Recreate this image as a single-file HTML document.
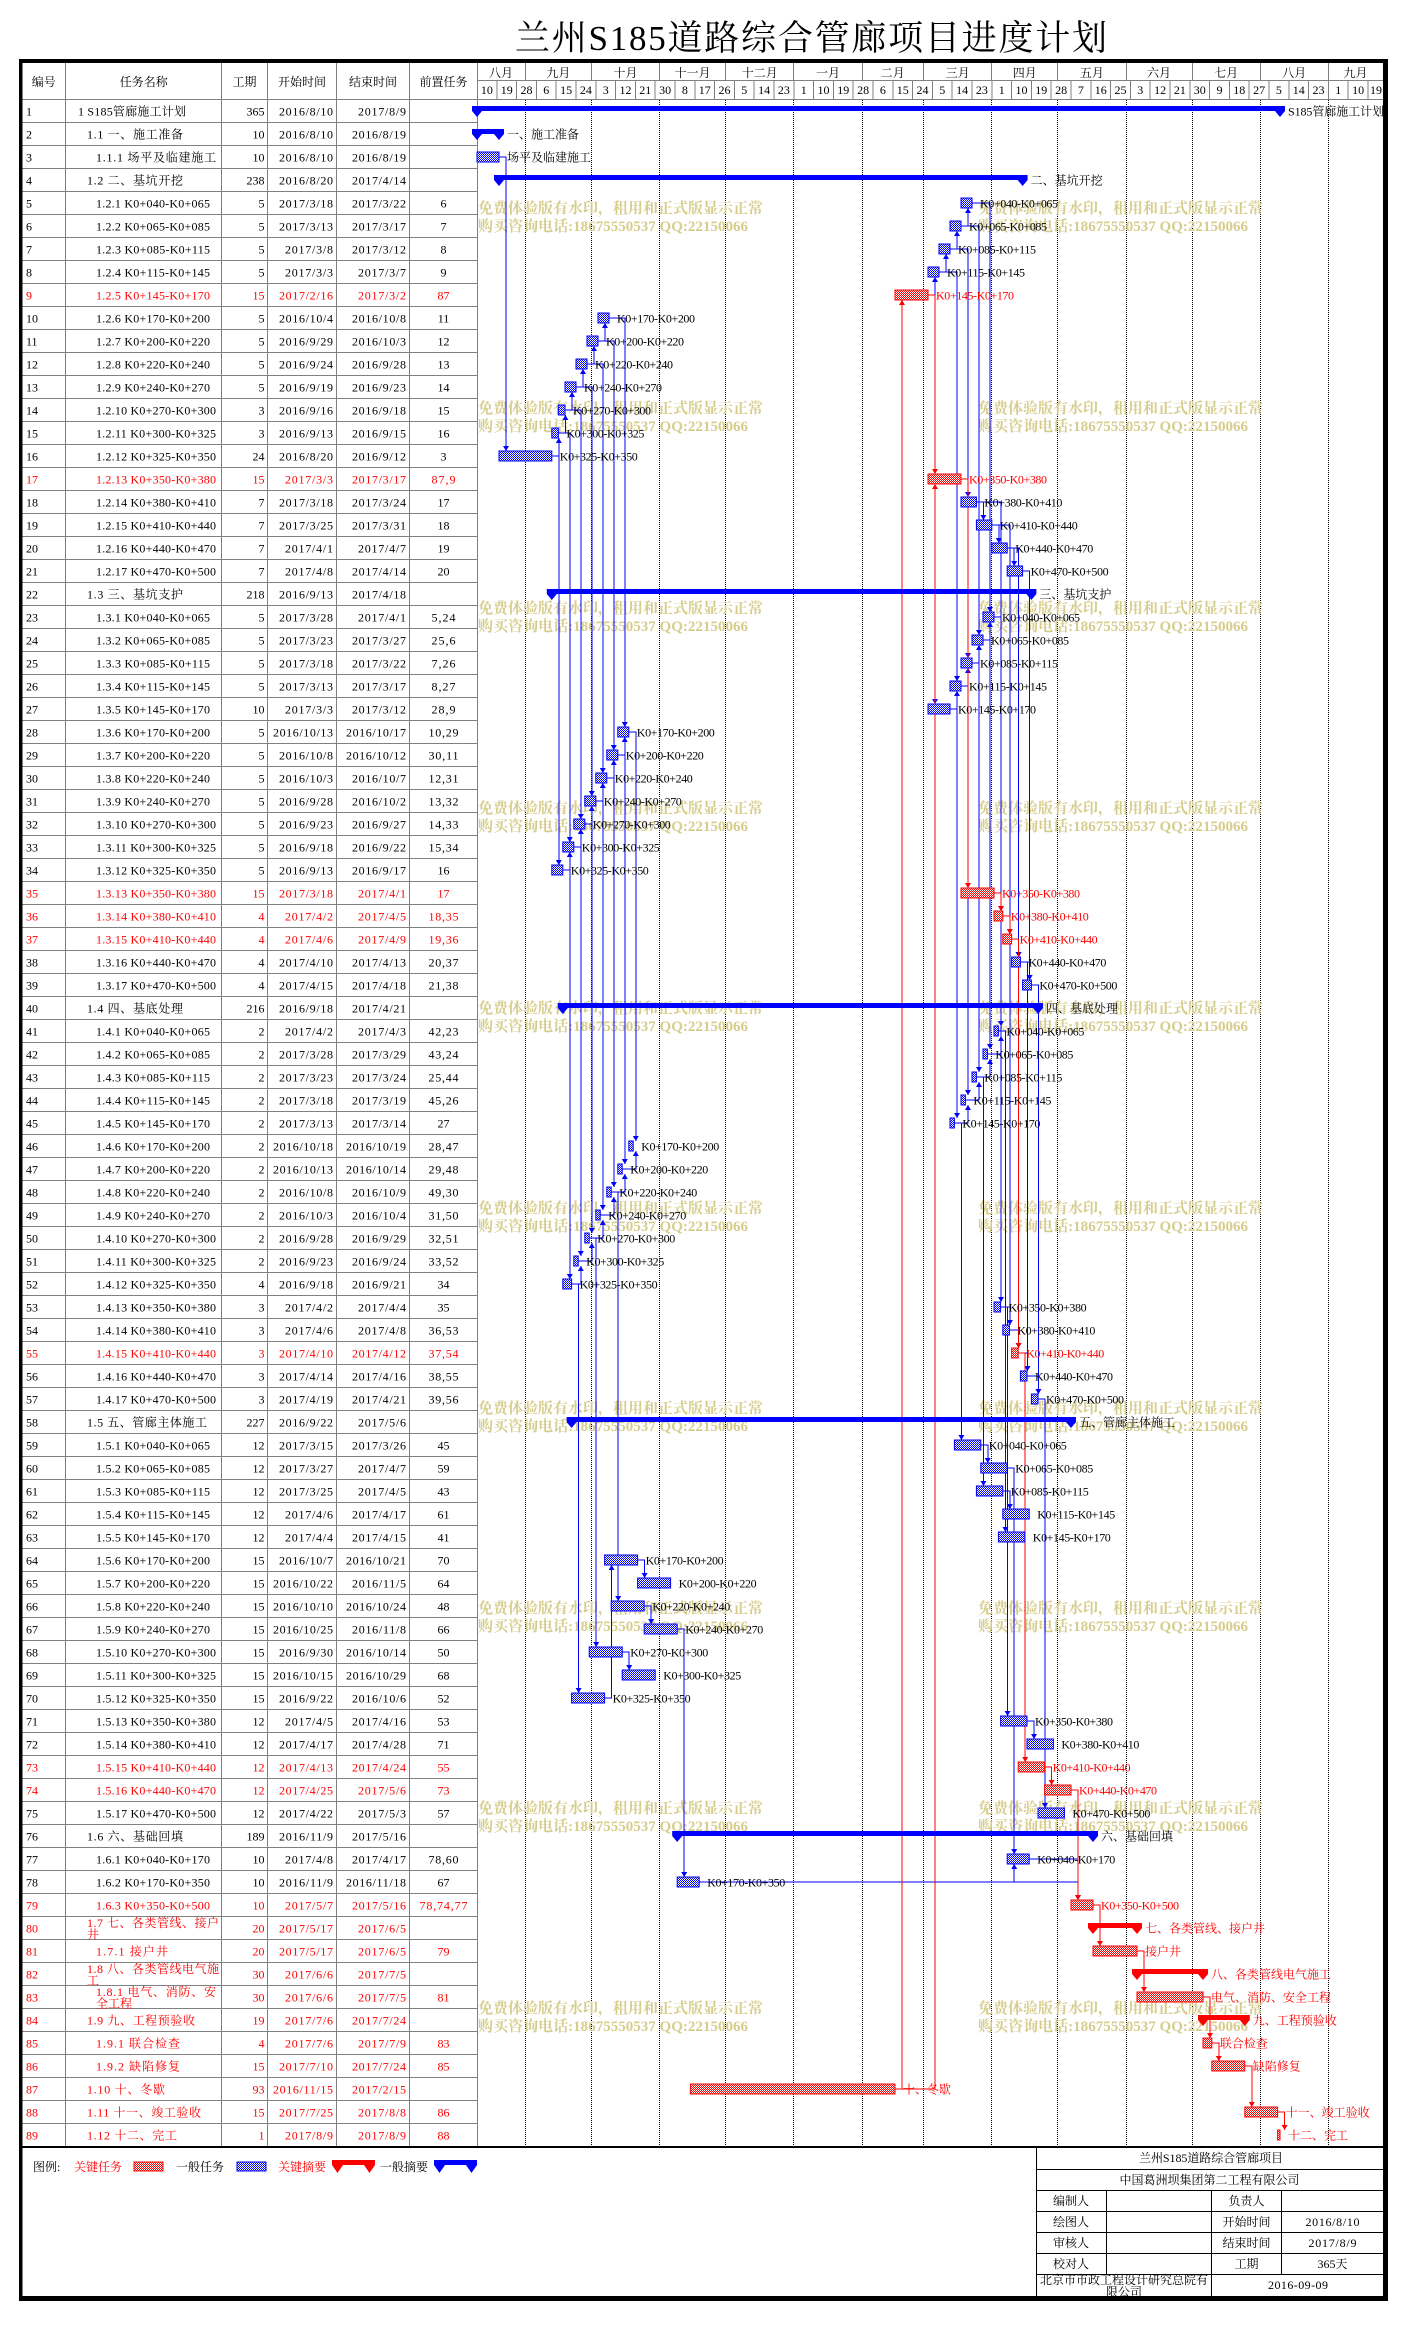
<!DOCTYPE html>
<html><head><meta charset="utf-8">
<style>
html,body{margin:0;padding:0;background:#fff}
svg{display:block}
text{font-family:"Liberation Serif","Noto Serif CJK SC",serif;font-size:12px;fill:#000}
.r text,text.r{fill:#f00}
.d{text-anchor:end}
.m{text-anchor:middle}
.w{font-size:15px;font-weight:bold;fill:#d6cc8c}
.b{fill:url(#pb);stroke:#00f;stroke-width:1}
.c{fill:url(#pr);stroke:#f00;stroke-width:1}
.sb{fill:#00f}
.sr{fill:#f00}
.lb{fill:none;stroke:#00f;stroke-width:1;marker-end:url(#ab)}
.lr{fill:none;stroke:#f00;stroke-width:1;marker-end:url(#ar)}
</style></head><body>
<svg width="1405" height="2337" viewBox="0 0 1405 2337" xmlns="http://www.w3.org/2000/svg">
<defs>
<pattern id="pb" width="2" height="2" patternUnits="userSpaceOnUse"><rect width="2" height="2" fill="#fff"/><rect width="1" height="1" fill="#00f"/><rect x="1" y="1" width="1" height="1" fill="#00f"/></pattern>
<pattern id="pr" width="2" height="2" patternUnits="userSpaceOnUse"><rect width="2" height="2" fill="#fff"/><rect width="1" height="1" fill="#f00"/><rect x="1" y="1" width="1" height="1" fill="#f00"/></pattern>
<pattern id="rl" x="0" y="99" width="10" height="23" patternUnits="userSpaceOnUse"><rect width="10" height="1" fill="#808080"/></pattern>
<marker id="ab" markerWidth="5" markerHeight="6" refX="5" refY="3" orient="auto" markerUnits="userSpaceOnUse"><path d="M0,0L5,3L0,6Z" fill="#00f"/></marker>
<marker id="ar" markerWidth="5" markerHeight="6" refX="5" refY="3" orient="auto" markerUnits="userSpaceOnUse"><path d="M0,0L5,3L0,6Z" fill="#f00"/></marker>
</defs>
<rect width="1405" height="2337" fill="#fff"/>

<text x="515" y="50" style="font-size:35px" textLength="592">兰州S185道路综合管廊项目进度计划</text>

<!-- grid -->
<rect x="22" y="99" width="455" height="2047" fill="url(#rl)"/>
<g shape-rendering="crispEdges" fill="none" stroke="#808080" stroke-width="1">
<path d="M65.5 63V2146M221.5 63V2146M267.5 63V2146M336.5 63V2146M409.5 63V2146M477.5 63V2146M477 80.5H1383M22 99.5H1383"/>
<path d="M525.5 63V80M591.5 63V80M659.5 63V80M725.5 63V80M793.5 63V80M862.5 63V80M923.5 63V80M991.5 63V80M1057.5 63V80M1126.5 63V80M1192.5 63V80M1260.5 63V80M1328.5 63V80"/>
<path d="M496.8 80V99M516.6 80V99M536.4 80V99M556.2 80V99M576 80V99M595.8 80V99M615.6 80V99M635.4 80V99M655.2 80V99M675 80V99M694.8 80V99M714.6 80V99M734.4 80V99M754.2 80V99M774 80V99M793.8 80V99M813.6 80V99M833.4 80V99M853.2 80V99M873 80V99M892.8 80V99M912.6 80V99M932.4 80V99M952.2 80V99M972 80V99M991.8 80V99M1011.6 80V99M1031.4 80V99M1051.2 80V99M1071 80V99M1090.8 80V99M1110.6 80V99M1130.4 80V99M1150.2 80V99M1170 80V99M1189.8 80V99M1209.6 80V99M1229.4 80V99M1249.2 80V99M1269 80V99M1288.8 80V99M1308.6 80V99M1328.4 80V99M1348.2 80V99M1368 80V99"/>
</g>
<path shape-rendering="crispEdges" d="M525.5 100V2146M591.5 100V2146M659.5 100V2146M725.5 100V2146M793.5 100V2146M862.5 100V2146M923.5 100V2146M991.5 100V2146M1057.5 100V2146M1126.5 100V2146M1192.5 100V2146M1260.5 100V2146M1328.5 100V2146" stroke="#000" stroke-width="1" stroke-dasharray="1 1" fill="none"/>

<!-- header -->
<text x="43.8" y="86" class="m">编号</text>
<text x="143.8" y="86" class="m">任务名称</text>
<text x="244.5" y="86" class="m">工期</text>
<text x="302" y="86" class="m">开始时间</text>
<text x="373" y="86" class="m">结束时间</text>
<text x="443.5" y="86" class="m">前置任务</text>
<g class="m">
<text x="501" y="77" class="m">八月</text><text x="558.4" y="77" class="m">九月</text><text x="625.5" y="77" class="m">十月</text><text x="692.6" y="77" class="m">十一月</text><text x="759.7" y="77" class="m">十二月</text><text x="828" y="77" class="m">一月</text><text x="892.8" y="77" class="m">二月</text><text x="957.7" y="77" class="m">三月</text><text x="1024.8" y="77" class="m">四月</text><text x="1091.9" y="77" class="m">五月</text><text x="1159" y="77" class="m">六月</text><text x="1226.1" y="77" class="m">七月</text><text x="1294.3" y="77" class="m">八月</text><text x="1355.5" y="77" class="m">九月</text>
</g>
<g>
<text x="486.9" y="94" class="m">10</text><text x="506.7" y="94" class="m">19</text><text x="526.5" y="94" class="m">28</text><text x="546.3" y="94" class="m">6</text><text x="566.1" y="94" class="m">15</text><text x="585.9" y="94" class="m">24</text><text x="605.7" y="94" class="m">3</text><text x="625.5" y="94" class="m">12</text><text x="645.3" y="94" class="m">21</text><text x="665.1" y="94" class="m">30</text><text x="684.9" y="94" class="m">8</text><text x="704.7" y="94" class="m">17</text><text x="724.5" y="94" class="m">26</text><text x="744.3" y="94" class="m">5</text><text x="764.1" y="94" class="m">14</text><text x="783.9" y="94" class="m">23</text><text x="803.7" y="94" class="m">1</text><text x="823.5" y="94" class="m">10</text><text x="843.3" y="94" class="m">19</text><text x="863.1" y="94" class="m">28</text><text x="882.9" y="94" class="m">6</text><text x="902.7" y="94" class="m">15</text><text x="922.5" y="94" class="m">24</text><text x="942.3" y="94" class="m">5</text><text x="962.1" y="94" class="m">14</text><text x="981.9" y="94" class="m">23</text><text x="1001.7" y="94" class="m">1</text><text x="1021.5" y="94" class="m">10</text><text x="1041.3" y="94" class="m">19</text><text x="1061.1" y="94" class="m">28</text><text x="1080.9" y="94" class="m">7</text><text x="1100.7" y="94" class="m">16</text><text x="1120.5" y="94" class="m">25</text><text x="1140.3" y="94" class="m">3</text><text x="1160.1" y="94" class="m">12</text><text x="1179.9" y="94" class="m">21</text><text x="1199.7" y="94" class="m">30</text><text x="1219.5" y="94" class="m">9</text><text x="1239.3" y="94" class="m">18</text><text x="1259.1" y="94" class="m">27</text><text x="1278.9" y="94" class="m">5</text><text x="1298.7" y="94" class="m">14</text><text x="1318.5" y="94" class="m">23</text><text x="1338.3" y="94" class="m">1</text><text x="1358.1" y="94" class="m">10</text><text x="1376" y="94" class="m">19</text>
</g>

<!-- watermark -->
<g>
<text class="w" x="478" y="213" textLength="285">免费体验版有水印，租用和正式版显示正常</text><text class="w" x="478" y="231" textLength="270">购买咨询电话:18675550537 QQ:22150066</text>
<text class="w" x="978" y="213" textLength="285">免费体验版有水印，租用和正式版显示正常</text><text class="w" x="978" y="231" textLength="270">购买咨询电话:18675550537 QQ:22150066</text>
<text class="w" x="478" y="413" textLength="285">免费体验版有水印，租用和正式版显示正常</text><text class="w" x="478" y="431" textLength="270">购买咨询电话:18675550537 QQ:22150066</text>
<text class="w" x="978" y="413" textLength="285">免费体验版有水印，租用和正式版显示正常</text><text class="w" x="978" y="431" textLength="270">购买咨询电话:18675550537 QQ:22150066</text>
<text class="w" x="478" y="613" textLength="285">免费体验版有水印，租用和正式版显示正常</text><text class="w" x="478" y="631" textLength="270">购买咨询电话:18675550537 QQ:22150066</text>
<text class="w" x="978" y="613" textLength="285">免费体验版有水印，租用和正式版显示正常</text><text class="w" x="978" y="631" textLength="270">购买咨询电话:18675550537 QQ:22150066</text>
<text class="w" x="478" y="813" textLength="285">免费体验版有水印，租用和正式版显示正常</text><text class="w" x="478" y="831" textLength="270">购买咨询电话:18675550537 QQ:22150066</text>
<text class="w" x="978" y="813" textLength="285">免费体验版有水印，租用和正式版显示正常</text><text class="w" x="978" y="831" textLength="270">购买咨询电话:18675550537 QQ:22150066</text>
<text class="w" x="478" y="1013" textLength="285">免费体验版有水印，租用和正式版显示正常</text><text class="w" x="478" y="1031" textLength="270">购买咨询电话:18675550537 QQ:22150066</text>
<text class="w" x="978" y="1013" textLength="285">免费体验版有水印，租用和正式版显示正常</text><text class="w" x="978" y="1031" textLength="270">购买咨询电话:18675550537 QQ:22150066</text>
<text class="w" x="478" y="1213" textLength="285">免费体验版有水印，租用和正式版显示正常</text><text class="w" x="478" y="1231" textLength="270">购买咨询电话:18675550537 QQ:22150066</text>
<text class="w" x="978" y="1213" textLength="285">免费体验版有水印，租用和正式版显示正常</text><text class="w" x="978" y="1231" textLength="270">购买咨询电话:18675550537 QQ:22150066</text>
<text class="w" x="478" y="1413" textLength="285">免费体验版有水印，租用和正式版显示正常</text><text class="w" x="478" y="1431" textLength="270">购买咨询电话:18675550537 QQ:22150066</text>
<text class="w" x="978" y="1413" textLength="285">免费体验版有水印，租用和正式版显示正常</text><text class="w" x="978" y="1431" textLength="270">购买咨询电话:18675550537 QQ:22150066</text>
<text class="w" x="478" y="1613" textLength="285">免费体验版有水印，租用和正式版显示正常</text><text class="w" x="478" y="1631" textLength="270">购买咨询电话:18675550537 QQ:22150066</text>
<text class="w" x="978" y="1613" textLength="285">免费体验版有水印，租用和正式版显示正常</text><text class="w" x="978" y="1631" textLength="270">购买咨询电话:18675550537 QQ:22150066</text>
<text class="w" x="478" y="1813" textLength="285">免费体验版有水印，租用和正式版显示正常</text><text class="w" x="478" y="1831" textLength="270">购买咨询电话:18675550537 QQ:22150066</text>
<text class="w" x="978" y="1813" textLength="285">免费体验版有水印，租用和正式版显示正常</text><text class="w" x="978" y="1831" textLength="270">购买咨询电话:18675550537 QQ:22150066</text>
<text class="w" x="478" y="2013" textLength="285">免费体验版有水印，租用和正式版显示正常</text><text class="w" x="478" y="2031" textLength="270">购买咨询电话:18675550537 QQ:22150066</text>
<text class="w" x="978" y="2013" textLength="285">免费体验版有水印，租用和正式版显示正常</text><text class="w" x="978" y="2031" textLength="270">购买咨询电话:18675550537 QQ:22150066</text>
</g>

<!-- blue links -->
<g shape-rendering="crispEdges">
<path class="lb" d="M499,157H506V451"/>
<path class="lb" d="M972,203H990V612"/>
<path class="lb" d="M961,226H968V208"/>
<path class="lb" d="M961,226H979V635"/>
<path class="lb" d="M950,249H957V231"/>
<path class="lb" d="M950,249H968V658"/>
<path class="lb" d="M939,272H946V254"/>
<path class="lb" d="M939,272H957V681"/>
<path class="lb" d="M928,295H935V277"/>
<path class="lb" d="M928,295H935V704"/>
<path class="lb" d="M609,318H624.8V727"/>
<path class="lb" d="M598,341H605V323"/>
<path class="lb" d="M598,341H613.8V750"/>
<path class="lb" d="M587,364H594V346"/>
<path class="lb" d="M587,364H602.8V773"/>
<path class="lb" d="M576,387H583V369"/>
<path class="lb" d="M576,387H591.8V796"/>
<path class="lb" d="M565,410H572V392"/>
<path class="lb" d="M565,410H580.8V819"/>
<path class="lb" d="M558.4,433H565.4V415"/>
<path class="lb" d="M558.4,433H569.8V842"/>
<path class="lb" d="M551.8,456H558.8V438"/>
<path class="lb" d="M551.8,456H558.8V865"/>
<path class="lb" d="M961,479H968V497"/>
<path class="lb" d="M976.4,502H983.4V520"/>
<path class="lb" d="M976.4,502H1001V911"/>
<path class="lb" d="M991.8,525H998.8V543"/>
<path class="lb" d="M991.8,525H1009.8V934"/>
<path class="lb" d="M1007.2,548H1014.2V566"/>
<path class="lb" d="M1007.2,548H1018.6V957"/>
<path class="lb" d="M1022.6,571H1029.6V980"/>
<path class="lb" d="M994,617H1001V1026"/>
<path class="lb" d="M983,640H990V622"/>
<path class="lb" d="M983,640H990V1049"/>
<path class="lb" d="M972,663H979V645"/>
<path class="lb" d="M972,663H979V1072"/>
<path class="lb" d="M961,686H968V668"/>
<path class="lb" d="M961,686H968V1095"/>
<path class="lb" d="M950,709H957V691"/>
<path class="lb" d="M950,709H957V1118"/>
<path class="lb" d="M628.8,732H635.8V1141"/>
<path class="lb" d="M617.8,755H624.8V737"/>
<path class="lb" d="M617.8,755H624.8V1164"/>
<path class="lb" d="M606.8,778H613.8V760"/>
<path class="lb" d="M606.8,778H613.8V1187"/>
<path class="lb" d="M595.8,801H602.8V783"/>
<path class="lb" d="M595.8,801H602.8V1210"/>
<path class="lb" d="M584.8,824H591.8V806"/>
<path class="lb" d="M584.8,824H591.8V1233"/>
<path class="lb" d="M573.8,847H580.8V829"/>
<path class="lb" d="M573.8,847H580.8V1256"/>
<path class="lb" d="M562.8,870H569.8V852"/>
<path class="lb" d="M562.8,870H569.8V1279"/>
<path class="lb" d="M994,893H1001V1302"/>
<path class="lb" d="M1002.8,916H1009.8V1325"/>
<path class="lb" d="M1011.6,939H1018.6V957"/>
<path class="lb" d="M1020.4,962H1029.6V980"/>
<path class="lb" d="M1020.4,962H1027.4V1371"/>
<path class="lb" d="M1031.4,985H1038.4V1394"/>
<path class="lb" d="M998.4,1031H1005.4V1532"/>
<path class="lb" d="M987.4,1054H1001V1036"/>
<path class="lb" d="M976.4,1077H990V1059"/>
<path class="lb" d="M976.4,1077H983.4V1486"/>
<path class="lb" d="M965.4,1100H979V1082"/>
<path class="lb" d="M954.4,1123H968V1105"/>
<path class="lb" d="M954.4,1123H961.4V1440"/>
<path class="lb" d="M622.2,1169H635.8V1151"/>
<path class="lb" d="M611.2,1192H624.8V1174"/>
<path class="lb" d="M611.2,1192H618.2V1601"/>
<path class="lb" d="M600.2,1215H613.8V1197"/>
<path class="lb" d="M589.2,1238H602.8V1220"/>
<path class="lb" d="M589.2,1238H596.2V1647"/>
<path class="lb" d="M578.2,1261H591.8V1243"/>
<path class="lb" d="M571.6,1284H580.8V1266"/>
<path class="lb" d="M571.6,1284H578.6V1693"/>
<path class="lb" d="M1000.6,1307H1009.8V1325"/>
<path class="lb" d="M1000.6,1307H1007.6V1716"/>
<path class="lb" d="M1009.4,1330H1018.6V1348"/>
<path class="lb" d="M1018.2,1353H1027.4V1371"/>
<path class="lb" d="M1027,1376H1038.4V1394"/>
<path class="lb" d="M1038,1399H1045V1808"/>
<path class="lb" d="M980.8,1445H987.8V1463"/>
<path class="lb" d="M1007.2,1468H1014.2V1854"/>
<path class="lb" d="M1002.8,1491H1009.8V1509"/>
<path class="lb" d="M637.6,1560H644.6V1578"/>
<path class="lb" d="M644.2,1606H651.2V1624"/>
<path class="lb" d="M677.2,1629H684.2V1877"/>
<path class="lb" d="M622.2,1652H629.2V1670"/>
<path class="lb" d="M604.6,1698H611.6V1565"/>
<path class="lb" d="M1027,1721H1034V1739"/>
<path class="lb" d="M1029.2,1859H1078V1900"/>
<path class="lb" d="M699.2,1882H1014.2V1864"/>
<path class="lb" d="M699.2,1882H1078V1900"/>
</g>
<!-- red links -->
<g shape-rendering="crispEdges">
<path class="lr" d="M928,295H935V474"/>
<path class="lr" d="M895,2089H902V300"/>
<path class="lr" d="M895,2089H935V484"/>
<path class="lr" d="M961,479H968V888"/>
<path class="lr" d="M994,893H1001V911"/>
<path class="lr" d="M1002.8,916H1009.8V934"/>
<path class="lr" d="M1011.6,939H1018.6V1348"/>
<path class="lr" d="M1018.2,1353H1025.2V1762"/>
<path class="lr" d="M1044.6,1767H1051.6V1785"/>
<path class="lr" d="M1071,1790H1078V1900"/>
<path class="lr" d="M1093,1905H1100V1946"/>
<path class="lr" d="M1137,1951H1144V1992"/>
<path class="lr" d="M1203,1997H1210V2038"/>
<path class="lr" d="M1211.8,2043H1218.8V2061"/>
<path class="lr" d="M1244.8,2066H1251.8V2107"/>
<path class="lr" d="M1277.6,2112H1284.6V2130"/>
</g>

<!-- rows -->
<g transform="translate(0,99)"><text x="26" y="16.5">1</text><text x="78" y="16.5" textLength="108">1 S185管廊施工计划</text><text x="264.5" y="16.5" class="d">365</text><text x="279" y="16.5" textLength="54">2016/8/10</text><text x="358" y="16.5" textLength="48">2017/8/9</text><path class="sb" d="M472 7H1285V12L1280 18L1275 12H482L477 18L472 12Z"/><text x="1288" y="16.5" textLength="96">S185管廊施工计划</text></g>
<g transform="translate(0,122)"><text x="26" y="16.5">2</text><text x="87" y="16.5" textLength="96">1.1 一、施工准备</text><text x="264.5" y="16.5" class="d">10</text><text x="279" y="16.5" textLength="54">2016/8/10</text><text x="352" y="16.5" textLength="54">2016/8/19</text><path class="sb" d="M472 7H504V12L499 18L494 12H482L477 18L472 12Z"/><text x="507" y="16.5">一、施工准备</text></g>
<g transform="translate(0,145)"><text x="26" y="16.5">3</text><text x="96" y="16.5" textLength="120">1.1.1 场平及临建施工</text><text x="264.5" y="16.5" class="d">10</text><text x="279" y="16.5" textLength="54">2016/8/10</text><text x="352" y="16.5" textLength="54">2016/8/19</text><rect class="b" x="477" y="7" width="22" height="10"/><text x="507" y="16.5">场平及临建施工</text></g>
<g transform="translate(0,168)"><text x="26" y="16.5">4</text><text x="87" y="16.5" textLength="96">1.2 二、基坑开挖</text><text x="264.5" y="16.5" class="d">238</text><text x="279" y="16.5" textLength="54">2016/8/20</text><text x="352" y="16.5" textLength="54">2017/4/14</text><path class="sb" d="M494 7H1027.6V12L1022.6 18L1017.6 12H504L499 18L494 12Z"/><text x="1030.6" y="16.5">二、基坑开挖</text></g>
<g transform="translate(0,191)"><text x="26" y="16.5">5</text><text x="96" y="16.5" textLength="114">1.2.1 K0+040-K0+065</text><text x="264.5" y="16.5" class="d">5</text><text x="279" y="16.5" textLength="54">2017/3/18</text><text x="352" y="16.5" textLength="54">2017/3/22</text><text x="443.5" y="16.5" class="m">6</text><rect class="b" x="961" y="7" width="11" height="10"/><text x="980" y="16.5" textLength="78">K0+040-K0+065</text></g>
<g transform="translate(0,214)"><text x="26" y="16.5">6</text><text x="96" y="16.5" textLength="114">1.2.2 K0+065-K0+085</text><text x="264.5" y="16.5" class="d">5</text><text x="279" y="16.5" textLength="54">2017/3/13</text><text x="352" y="16.5" textLength="54">2017/3/17</text><text x="443.5" y="16.5" class="m">7</text><rect class="b" x="950" y="7" width="11" height="10"/><text x="969" y="16.5" textLength="78">K0+065-K0+085</text></g>
<g transform="translate(0,237)"><text x="26" y="16.5">7</text><text x="96" y="16.5" textLength="114">1.2.3 K0+085-K0+115</text><text x="264.5" y="16.5" class="d">5</text><text x="285" y="16.5" textLength="48">2017/3/8</text><text x="352" y="16.5" textLength="54">2017/3/12</text><text x="443.5" y="16.5" class="m">8</text><rect class="b" x="939" y="7" width="11" height="10"/><text x="958" y="16.5" textLength="78">K0+085-K0+115</text></g>
<g transform="translate(0,260)"><text x="26" y="16.5">8</text><text x="96" y="16.5" textLength="114">1.2.4 K0+115-K0+145</text><text x="264.5" y="16.5" class="d">5</text><text x="285" y="16.5" textLength="48">2017/3/3</text><text x="358" y="16.5" textLength="48">2017/3/7</text><text x="443.5" y="16.5" class="m">9</text><rect class="b" x="928" y="7" width="11" height="10"/><text x="947" y="16.5" textLength="78">K0+115-K0+145</text></g>
<g transform="translate(0,283)" class="r"><text x="26" y="16.5">9</text><text x="96" y="16.5" textLength="114">1.2.5 K0+145-K0+170</text><text x="264.5" y="16.5" class="d">15</text><text x="279" y="16.5" textLength="54">2017/2/16</text><text x="358" y="16.5" textLength="48">2017/3/2</text><text x="443.5" y="16.5" class="m">87</text><rect class="c" x="895" y="7" width="33" height="10"/><text x="936" y="16.5" textLength="78">K0+145-K0+170</text></g>
<g transform="translate(0,306)"><text x="26" y="16.5">10</text><text x="96" y="16.5" textLength="114">1.2.6 K0+170-K0+200</text><text x="264.5" y="16.5" class="d">5</text><text x="279" y="16.5" textLength="54">2016/10/4</text><text x="352" y="16.5" textLength="54">2016/10/8</text><text x="443.5" y="16.5" class="m">11</text><rect class="b" x="598" y="7" width="11" height="10"/><text x="617" y="16.5" textLength="78">K0+170-K0+200</text></g>
<g transform="translate(0,329)"><text x="26" y="16.5">11</text><text x="96" y="16.5" textLength="114">1.2.7 K0+200-K0+220</text><text x="264.5" y="16.5" class="d">5</text><text x="279" y="16.5" textLength="54">2016/9/29</text><text x="352" y="16.5" textLength="54">2016/10/3</text><text x="443.5" y="16.5" class="m">12</text><rect class="b" x="587" y="7" width="11" height="10"/><text x="606" y="16.5" textLength="78">K0+200-K0+220</text></g>
<g transform="translate(0,352)"><text x="26" y="16.5">12</text><text x="96" y="16.5" textLength="114">1.2.8 K0+220-K0+240</text><text x="264.5" y="16.5" class="d">5</text><text x="279" y="16.5" textLength="54">2016/9/24</text><text x="352" y="16.5" textLength="54">2016/9/28</text><text x="443.5" y="16.5" class="m">13</text><rect class="b" x="576" y="7" width="11" height="10"/><text x="595" y="16.5" textLength="78">K0+220-K0+240</text></g>
<g transform="translate(0,375)"><text x="26" y="16.5">13</text><text x="96" y="16.5" textLength="114">1.2.9 K0+240-K0+270</text><text x="264.5" y="16.5" class="d">5</text><text x="279" y="16.5" textLength="54">2016/9/19</text><text x="352" y="16.5" textLength="54">2016/9/23</text><text x="443.5" y="16.5" class="m">14</text><rect class="b" x="565" y="7" width="11" height="10"/><text x="584" y="16.5" textLength="78">K0+240-K0+270</text></g>
<g transform="translate(0,398)"><text x="26" y="16.5">14</text><text x="96" y="16.5" textLength="120">1.2.10 K0+270-K0+300</text><text x="264.5" y="16.5" class="d">3</text><text x="279" y="16.5" textLength="54">2016/9/16</text><text x="352" y="16.5" textLength="54">2016/9/18</text><text x="443.5" y="16.5" class="m">15</text><rect class="b" x="558.4" y="7" width="6.6" height="10"/><text x="573" y="16.5" textLength="78">K0+270-K0+300</text></g>
<g transform="translate(0,421)"><text x="26" y="16.5">15</text><text x="96" y="16.5" textLength="120">1.2.11 K0+300-K0+325</text><text x="264.5" y="16.5" class="d">3</text><text x="279" y="16.5" textLength="54">2016/9/13</text><text x="352" y="16.5" textLength="54">2016/9/15</text><text x="443.5" y="16.5" class="m">16</text><rect class="b" x="551.8" y="7" width="6.6" height="10"/><text x="566.4" y="16.5" textLength="78">K0+300-K0+325</text></g>
<g transform="translate(0,444)"><text x="26" y="16.5">16</text><text x="96" y="16.5" textLength="120">1.2.12 K0+325-K0+350</text><text x="264.5" y="16.5" class="d">24</text><text x="279" y="16.5" textLength="54">2016/8/20</text><text x="352" y="16.5" textLength="54">2016/9/12</text><text x="443.5" y="16.5" class="m">3</text><rect class="b" x="499" y="7" width="52.8" height="10"/><text x="559.8" y="16.5" textLength="78">K0+325-K0+350</text></g>
<g transform="translate(0,467)" class="r"><text x="26" y="16.5">17</text><text x="96" y="16.5" textLength="120">1.2.13 K0+350-K0+380</text><text x="264.5" y="16.5" class="d">15</text><text x="285" y="16.5" textLength="48">2017/3/3</text><text x="352" y="16.5" textLength="54">2017/3/17</text><text x="431.5" y="16.5" textLength="24">87,9</text><rect class="c" x="928" y="7" width="33" height="10"/><text x="969" y="16.5" textLength="78">K0+350-K0+380</text></g>
<g transform="translate(0,490)"><text x="26" y="16.5">18</text><text x="96" y="16.5" textLength="120">1.2.14 K0+380-K0+410</text><text x="264.5" y="16.5" class="d">7</text><text x="279" y="16.5" textLength="54">2017/3/18</text><text x="352" y="16.5" textLength="54">2017/3/24</text><text x="443.5" y="16.5" class="m">17</text><rect class="b" x="961" y="7" width="15.4" height="10"/><text x="984.4" y="16.5" textLength="78">K0+380-K0+410</text></g>
<g transform="translate(0,513)"><text x="26" y="16.5">19</text><text x="96" y="16.5" textLength="120">1.2.15 K0+410-K0+440</text><text x="264.5" y="16.5" class="d">7</text><text x="279" y="16.5" textLength="54">2017/3/25</text><text x="352" y="16.5" textLength="54">2017/3/31</text><text x="443.5" y="16.5" class="m">18</text><rect class="b" x="976.4" y="7" width="15.4" height="10"/><text x="999.8" y="16.5" textLength="78">K0+410-K0+440</text></g>
<g transform="translate(0,536)"><text x="26" y="16.5">20</text><text x="96" y="16.5" textLength="120">1.2.16 K0+440-K0+470</text><text x="264.5" y="16.5" class="d">7</text><text x="285" y="16.5" textLength="48">2017/4/1</text><text x="358" y="16.5" textLength="48">2017/4/7</text><text x="443.5" y="16.5" class="m">19</text><rect class="b" x="991.8" y="7" width="15.4" height="10"/><text x="1015.2" y="16.5" textLength="78">K0+440-K0+470</text></g>
<g transform="translate(0,559)"><text x="26" y="16.5">21</text><text x="96" y="16.5" textLength="120">1.2.17 K0+470-K0+500</text><text x="264.5" y="16.5" class="d">7</text><text x="285" y="16.5" textLength="48">2017/4/8</text><text x="352" y="16.5" textLength="54">2017/4/14</text><text x="443.5" y="16.5" class="m">20</text><rect class="b" x="1007.2" y="7" width="15.4" height="10"/><text x="1030.6" y="16.5" textLength="78">K0+470-K0+500</text></g>
<g transform="translate(0,582)"><text x="26" y="16.5">22</text><text x="87" y="16.5" textLength="96">1.3 三、基坑支护</text><text x="264.5" y="16.5" class="d">218</text><text x="279" y="16.5" textLength="54">2016/9/13</text><text x="352" y="16.5" textLength="54">2017/4/18</text><path class="sb" d="M546.8 7H1036.4V12L1031.4 18L1026.4 12H556.8L551.8 18L546.8 12Z"/><text x="1039.4" y="16.5">三、基坑支护</text></g>
<g transform="translate(0,605)"><text x="26" y="16.5">23</text><text x="96" y="16.5" textLength="114">1.3.1 K0+040-K0+065</text><text x="264.5" y="16.5" class="d">5</text><text x="279" y="16.5" textLength="54">2017/3/28</text><text x="358" y="16.5" textLength="48">2017/4/1</text><text x="431.5" y="16.5" textLength="24">5,24</text><rect class="b" x="983" y="7" width="11" height="10"/><text x="1002" y="16.5" textLength="78">K0+040-K0+065</text></g>
<g transform="translate(0,628)"><text x="26" y="16.5">24</text><text x="96" y="16.5" textLength="114">1.3.2 K0+065-K0+085</text><text x="264.5" y="16.5" class="d">5</text><text x="279" y="16.5" textLength="54">2017/3/23</text><text x="352" y="16.5" textLength="54">2017/3/27</text><text x="431.5" y="16.5" textLength="24">25,6</text><rect class="b" x="972" y="7" width="11" height="10"/><text x="991" y="16.5" textLength="78">K0+065-K0+085</text></g>
<g transform="translate(0,651)"><text x="26" y="16.5">25</text><text x="96" y="16.5" textLength="114">1.3.3 K0+085-K0+115</text><text x="264.5" y="16.5" class="d">5</text><text x="279" y="16.5" textLength="54">2017/3/18</text><text x="352" y="16.5" textLength="54">2017/3/22</text><text x="431.5" y="16.5" textLength="24">7,26</text><rect class="b" x="961" y="7" width="11" height="10"/><text x="980" y="16.5" textLength="78">K0+085-K0+115</text></g>
<g transform="translate(0,674)"><text x="26" y="16.5">26</text><text x="96" y="16.5" textLength="114">1.3.4 K0+115-K0+145</text><text x="264.5" y="16.5" class="d">5</text><text x="279" y="16.5" textLength="54">2017/3/13</text><text x="352" y="16.5" textLength="54">2017/3/17</text><text x="431.5" y="16.5" textLength="24">8,27</text><rect class="b" x="950" y="7" width="11" height="10"/><text x="969" y="16.5" textLength="78">K0+115-K0+145</text></g>
<g transform="translate(0,697)"><text x="26" y="16.5">27</text><text x="96" y="16.5" textLength="114">1.3.5 K0+145-K0+170</text><text x="264.5" y="16.5" class="d">10</text><text x="285" y="16.5" textLength="48">2017/3/3</text><text x="352" y="16.5" textLength="54">2017/3/12</text><text x="431.5" y="16.5" textLength="24">28,9</text><rect class="b" x="928" y="7" width="22" height="10"/><text x="958" y="16.5" textLength="78">K0+145-K0+170</text></g>
<g transform="translate(0,720)"><text x="26" y="16.5">28</text><text x="96" y="16.5" textLength="114">1.3.6 K0+170-K0+200</text><text x="264.5" y="16.5" class="d">5</text><text x="273" y="16.5" textLength="60">2016/10/13</text><text x="346" y="16.5" textLength="60">2016/10/17</text><text x="428.5" y="16.5" textLength="30">10,29</text><rect class="b" x="617.8" y="7" width="11" height="10"/><text x="636.8" y="16.5" textLength="78">K0+170-K0+200</text></g>
<g transform="translate(0,743)"><text x="26" y="16.5">29</text><text x="96" y="16.5" textLength="114">1.3.7 K0+200-K0+220</text><text x="264.5" y="16.5" class="d">5</text><text x="279" y="16.5" textLength="54">2016/10/8</text><text x="346" y="16.5" textLength="60">2016/10/12</text><text x="428.5" y="16.5" textLength="30">30,11</text><rect class="b" x="606.8" y="7" width="11" height="10"/><text x="625.8" y="16.5" textLength="78">K0+200-K0+220</text></g>
<g transform="translate(0,766)"><text x="26" y="16.5">30</text><text x="96" y="16.5" textLength="114">1.3.8 K0+220-K0+240</text><text x="264.5" y="16.5" class="d">5</text><text x="279" y="16.5" textLength="54">2016/10/3</text><text x="352" y="16.5" textLength="54">2016/10/7</text><text x="428.5" y="16.5" textLength="30">12,31</text><rect class="b" x="595.8" y="7" width="11" height="10"/><text x="614.8" y="16.5" textLength="78">K0+220-K0+240</text></g>
<g transform="translate(0,789)"><text x="26" y="16.5">31</text><text x="96" y="16.5" textLength="114">1.3.9 K0+240-K0+270</text><text x="264.5" y="16.5" class="d">5</text><text x="279" y="16.5" textLength="54">2016/9/28</text><text x="352" y="16.5" textLength="54">2016/10/2</text><text x="428.5" y="16.5" textLength="30">13,32</text><rect class="b" x="584.8" y="7" width="11" height="10"/><text x="603.8" y="16.5" textLength="78">K0+240-K0+270</text></g>
<g transform="translate(0,812)"><text x="26" y="16.5">32</text><text x="96" y="16.5" textLength="120">1.3.10 K0+270-K0+300</text><text x="264.5" y="16.5" class="d">5</text><text x="279" y="16.5" textLength="54">2016/9/23</text><text x="352" y="16.5" textLength="54">2016/9/27</text><text x="428.5" y="16.5" textLength="30">14,33</text><rect class="b" x="573.8" y="7" width="11" height="10"/><text x="592.8" y="16.5" textLength="78">K0+270-K0+300</text></g>
<g transform="translate(0,835)"><text x="26" y="16.5">33</text><text x="96" y="16.5" textLength="120">1.3.11 K0+300-K0+325</text><text x="264.5" y="16.5" class="d">5</text><text x="279" y="16.5" textLength="54">2016/9/18</text><text x="352" y="16.5" textLength="54">2016/9/22</text><text x="428.5" y="16.5" textLength="30">15,34</text><rect class="b" x="562.8" y="7" width="11" height="10"/><text x="581.8" y="16.5" textLength="78">K0+300-K0+325</text></g>
<g transform="translate(0,858)"><text x="26" y="16.5">34</text><text x="96" y="16.5" textLength="120">1.3.12 K0+325-K0+350</text><text x="264.5" y="16.5" class="d">5</text><text x="279" y="16.5" textLength="54">2016/9/13</text><text x="352" y="16.5" textLength="54">2016/9/17</text><text x="443.5" y="16.5" class="m">16</text><rect class="b" x="551.8" y="7" width="11" height="10"/><text x="570.8" y="16.5" textLength="78">K0+325-K0+350</text></g>
<g transform="translate(0,881)" class="r"><text x="26" y="16.5">35</text><text x="96" y="16.5" textLength="120">1.3.13 K0+350-K0+380</text><text x="264.5" y="16.5" class="d">15</text><text x="279" y="16.5" textLength="54">2017/3/18</text><text x="358" y="16.5" textLength="48">2017/4/1</text><text x="443.5" y="16.5" class="m">17</text><rect class="c" x="961" y="7" width="33" height="10"/><text x="1002" y="16.5" textLength="78">K0+350-K0+380</text></g>
<g transform="translate(0,904)" class="r"><text x="26" y="16.5">36</text><text x="96" y="16.5" textLength="120">1.3.14 K0+380-K0+410</text><text x="264.5" y="16.5" class="d">4</text><text x="285" y="16.5" textLength="48">2017/4/2</text><text x="358" y="16.5" textLength="48">2017/4/5</text><text x="428.5" y="16.5" textLength="30">18,35</text><rect class="c" x="994" y="7" width="8.8" height="10"/><text x="1010.8" y="16.5" textLength="78">K0+380-K0+410</text></g>
<g transform="translate(0,927)" class="r"><text x="26" y="16.5">37</text><text x="96" y="16.5" textLength="120">1.3.15 K0+410-K0+440</text><text x="264.5" y="16.5" class="d">4</text><text x="285" y="16.5" textLength="48">2017/4/6</text><text x="358" y="16.5" textLength="48">2017/4/9</text><text x="428.5" y="16.5" textLength="30">19,36</text><rect class="c" x="1002.8" y="7" width="8.8" height="10"/><text x="1019.6" y="16.5" textLength="78">K0+410-K0+440</text></g>
<g transform="translate(0,950)"><text x="26" y="16.5">38</text><text x="96" y="16.5" textLength="120">1.3.16 K0+440-K0+470</text><text x="264.5" y="16.5" class="d">4</text><text x="279" y="16.5" textLength="54">2017/4/10</text><text x="352" y="16.5" textLength="54">2017/4/13</text><text x="428.5" y="16.5" textLength="30">20,37</text><rect class="b" x="1011.6" y="7" width="8.8" height="10"/><text x="1028.4" y="16.5" textLength="78">K0+440-K0+470</text></g>
<g transform="translate(0,973)"><text x="26" y="16.5">39</text><text x="96" y="16.5" textLength="120">1.3.17 K0+470-K0+500</text><text x="264.5" y="16.5" class="d">4</text><text x="279" y="16.5" textLength="54">2017/4/15</text><text x="352" y="16.5" textLength="54">2017/4/18</text><text x="428.5" y="16.5" textLength="30">21,38</text><rect class="b" x="1022.6" y="7" width="8.8" height="10"/><text x="1039.4" y="16.5" textLength="78">K0+470-K0+500</text></g>
<g transform="translate(0,996)"><text x="26" y="16.5">40</text><text x="87" y="16.5" textLength="96">1.4 四、基底处理</text><text x="264.5" y="16.5" class="d">216</text><text x="279" y="16.5" textLength="54">2016/9/18</text><text x="352" y="16.5" textLength="54">2017/4/21</text><path class="sb" d="M557.8 7H1043V12L1038 18L1033 12H567.8L562.8 18L557.8 12Z"/><text x="1046" y="16.5">四、基底处理</text></g>
<g transform="translate(0,1019)"><text x="26" y="16.5">41</text><text x="96" y="16.5" textLength="114">1.4.1 K0+040-K0+065</text><text x="264.5" y="16.5" class="d">2</text><text x="285" y="16.5" textLength="48">2017/4/2</text><text x="358" y="16.5" textLength="48">2017/4/3</text><text x="428.5" y="16.5" textLength="30">42,23</text><rect class="b" x="994" y="7" width="4.4" height="10"/><text x="1006.4" y="16.5" textLength="78">K0+040-K0+065</text></g>
<g transform="translate(0,1042)"><text x="26" y="16.5">42</text><text x="96" y="16.5" textLength="114">1.4.2 K0+065-K0+085</text><text x="264.5" y="16.5" class="d">2</text><text x="279" y="16.5" textLength="54">2017/3/28</text><text x="352" y="16.5" textLength="54">2017/3/29</text><text x="428.5" y="16.5" textLength="30">43,24</text><rect class="b" x="983" y="7" width="4.4" height="10"/><text x="995.4" y="16.5" textLength="78">K0+065-K0+085</text></g>
<g transform="translate(0,1065)"><text x="26" y="16.5">43</text><text x="96" y="16.5" textLength="114">1.4.3 K0+085-K0+115</text><text x="264.5" y="16.5" class="d">2</text><text x="279" y="16.5" textLength="54">2017/3/23</text><text x="352" y="16.5" textLength="54">2017/3/24</text><text x="428.5" y="16.5" textLength="30">25,44</text><rect class="b" x="972" y="7" width="4.4" height="10"/><text x="984.4" y="16.5" textLength="78">K0+085-K0+115</text></g>
<g transform="translate(0,1088)"><text x="26" y="16.5">44</text><text x="96" y="16.5" textLength="114">1.4.4 K0+115-K0+145</text><text x="264.5" y="16.5" class="d">2</text><text x="279" y="16.5" textLength="54">2017/3/18</text><text x="352" y="16.5" textLength="54">2017/3/19</text><text x="428.5" y="16.5" textLength="30">45,26</text><rect class="b" x="961" y="7" width="4.4" height="10"/><text x="973.4" y="16.5" textLength="78">K0+115-K0+145</text></g>
<g transform="translate(0,1111)"><text x="26" y="16.5">45</text><text x="96" y="16.5" textLength="114">1.4.5 K0+145-K0+170</text><text x="264.5" y="16.5" class="d">2</text><text x="279" y="16.5" textLength="54">2017/3/13</text><text x="352" y="16.5" textLength="54">2017/3/14</text><text x="443.5" y="16.5" class="m">27</text><rect class="b" x="950" y="7" width="4.4" height="10"/><text x="962.4" y="16.5" textLength="78">K0+145-K0+170</text></g>
<g transform="translate(0,1134)"><text x="26" y="16.5">46</text><text x="96" y="16.5" textLength="114">1.4.6 K0+170-K0+200</text><text x="264.5" y="16.5" class="d">2</text><text x="273" y="16.5" textLength="60">2016/10/18</text><text x="346" y="16.5" textLength="60">2016/10/19</text><text x="428.5" y="16.5" textLength="30">28,47</text><rect class="b" x="628.8" y="7" width="4.4" height="10"/><text x="641.2" y="16.5" textLength="78">K0+170-K0+200</text></g>
<g transform="translate(0,1157)"><text x="26" y="16.5">47</text><text x="96" y="16.5" textLength="114">1.4.7 K0+200-K0+220</text><text x="264.5" y="16.5" class="d">2</text><text x="273" y="16.5" textLength="60">2016/10/13</text><text x="346" y="16.5" textLength="60">2016/10/14</text><text x="428.5" y="16.5" textLength="30">29,48</text><rect class="b" x="617.8" y="7" width="4.4" height="10"/><text x="630.2" y="16.5" textLength="78">K0+200-K0+220</text></g>
<g transform="translate(0,1180)"><text x="26" y="16.5">48</text><text x="96" y="16.5" textLength="114">1.4.8 K0+220-K0+240</text><text x="264.5" y="16.5" class="d">2</text><text x="279" y="16.5" textLength="54">2016/10/8</text><text x="352" y="16.5" textLength="54">2016/10/9</text><text x="428.5" y="16.5" textLength="30">49,30</text><rect class="b" x="606.8" y="7" width="4.4" height="10"/><text x="619.2" y="16.5" textLength="78">K0+220-K0+240</text></g>
<g transform="translate(0,1203)"><text x="26" y="16.5">49</text><text x="96" y="16.5" textLength="114">1.4.9 K0+240-K0+270</text><text x="264.5" y="16.5" class="d">2</text><text x="279" y="16.5" textLength="54">2016/10/3</text><text x="352" y="16.5" textLength="54">2016/10/4</text><text x="428.5" y="16.5" textLength="30">31,50</text><rect class="b" x="595.8" y="7" width="4.4" height="10"/><text x="608.2" y="16.5" textLength="78">K0+240-K0+270</text></g>
<g transform="translate(0,1226)"><text x="26" y="16.5">50</text><text x="96" y="16.5" textLength="120">1.4.10 K0+270-K0+300</text><text x="264.5" y="16.5" class="d">2</text><text x="279" y="16.5" textLength="54">2016/9/28</text><text x="352" y="16.5" textLength="54">2016/9/29</text><text x="428.5" y="16.5" textLength="30">32,51</text><rect class="b" x="584.8" y="7" width="4.4" height="10"/><text x="597.2" y="16.5" textLength="78">K0+270-K0+300</text></g>
<g transform="translate(0,1249)"><text x="26" y="16.5">51</text><text x="96" y="16.5" textLength="120">1.4.11 K0+300-K0+325</text><text x="264.5" y="16.5" class="d">2</text><text x="279" y="16.5" textLength="54">2016/9/23</text><text x="352" y="16.5" textLength="54">2016/9/24</text><text x="428.5" y="16.5" textLength="30">33,52</text><rect class="b" x="573.8" y="7" width="4.4" height="10"/><text x="586.2" y="16.5" textLength="78">K0+300-K0+325</text></g>
<g transform="translate(0,1272)"><text x="26" y="16.5">52</text><text x="96" y="16.5" textLength="120">1.4.12 K0+325-K0+350</text><text x="264.5" y="16.5" class="d">4</text><text x="279" y="16.5" textLength="54">2016/9/18</text><text x="352" y="16.5" textLength="54">2016/9/21</text><text x="443.5" y="16.5" class="m">34</text><rect class="b" x="562.8" y="7" width="8.8" height="10"/><text x="579.6" y="16.5" textLength="78">K0+325-K0+350</text></g>
<g transform="translate(0,1295)"><text x="26" y="16.5">53</text><text x="96" y="16.5" textLength="120">1.4.13 K0+350-K0+380</text><text x="264.5" y="16.5" class="d">3</text><text x="285" y="16.5" textLength="48">2017/4/2</text><text x="358" y="16.5" textLength="48">2017/4/4</text><text x="443.5" y="16.5" class="m">35</text><rect class="b" x="994" y="7" width="6.6" height="10"/><text x="1008.6" y="16.5" textLength="78">K0+350-K0+380</text></g>
<g transform="translate(0,1318)"><text x="26" y="16.5">54</text><text x="96" y="16.5" textLength="120">1.4.14 K0+380-K0+410</text><text x="264.5" y="16.5" class="d">3</text><text x="285" y="16.5" textLength="48">2017/4/6</text><text x="358" y="16.5" textLength="48">2017/4/8</text><text x="428.5" y="16.5" textLength="30">36,53</text><rect class="b" x="1002.8" y="7" width="6.6" height="10"/><text x="1017.4" y="16.5" textLength="78">K0+380-K0+410</text></g>
<g transform="translate(0,1341)" class="r"><text x="26" y="16.5">55</text><text x="96" y="16.5" textLength="120">1.4.15 K0+410-K0+440</text><text x="264.5" y="16.5" class="d">3</text><text x="279" y="16.5" textLength="54">2017/4/10</text><text x="352" y="16.5" textLength="54">2017/4/12</text><text x="428.5" y="16.5" textLength="30">37,54</text><rect class="c" x="1011.6" y="7" width="6.6" height="10"/><text x="1026.2" y="16.5" textLength="78">K0+410-K0+440</text></g>
<g transform="translate(0,1364)"><text x="26" y="16.5">56</text><text x="96" y="16.5" textLength="120">1.4.16 K0+440-K0+470</text><text x="264.5" y="16.5" class="d">3</text><text x="279" y="16.5" textLength="54">2017/4/14</text><text x="352" y="16.5" textLength="54">2017/4/16</text><text x="428.5" y="16.5" textLength="30">38,55</text><rect class="b" x="1020.4" y="7" width="6.6" height="10"/><text x="1035" y="16.5" textLength="78">K0+440-K0+470</text></g>
<g transform="translate(0,1387)"><text x="26" y="16.5">57</text><text x="96" y="16.5" textLength="120">1.4.17 K0+470-K0+500</text><text x="264.5" y="16.5" class="d">3</text><text x="279" y="16.5" textLength="54">2017/4/19</text><text x="352" y="16.5" textLength="54">2017/4/21</text><text x="428.5" y="16.5" textLength="30">39,56</text><rect class="b" x="1031.4" y="7" width="6.6" height="10"/><text x="1046" y="16.5" textLength="78">K0+470-K0+500</text></g>
<g transform="translate(0,1410)"><text x="26" y="16.5">58</text><text x="87" y="16.5" textLength="120">1.5 五、管廊主体施工</text><text x="264.5" y="16.5" class="d">227</text><text x="279" y="16.5" textLength="54">2016/9/22</text><text x="358" y="16.5" textLength="48">2017/5/6</text><path class="sb" d="M566.6 7H1076V12L1071 18L1066 12H576.6L571.6 18L566.6 12Z"/><text x="1079" y="16.5">五、管廊主体施工</text></g>
<g transform="translate(0,1433)"><text x="26" y="16.5">59</text><text x="96" y="16.5" textLength="114">1.5.1 K0+040-K0+065</text><text x="264.5" y="16.5" class="d">12</text><text x="279" y="16.5" textLength="54">2017/3/15</text><text x="352" y="16.5" textLength="54">2017/3/26</text><text x="443.5" y="16.5" class="m">45</text><rect class="b" x="954.4" y="7" width="26.4" height="10"/><text x="988.8" y="16.5" textLength="78">K0+040-K0+065</text></g>
<g transform="translate(0,1456)"><text x="26" y="16.5">60</text><text x="96" y="16.5" textLength="114">1.5.2 K0+065-K0+085</text><text x="264.5" y="16.5" class="d">12</text><text x="279" y="16.5" textLength="54">2017/3/27</text><text x="358" y="16.5" textLength="48">2017/4/7</text><text x="443.5" y="16.5" class="m">59</text><rect class="b" x="980.8" y="7" width="26.4" height="10"/><text x="1015.2" y="16.5" textLength="78">K0+065-K0+085</text></g>
<g transform="translate(0,1479)"><text x="26" y="16.5">61</text><text x="96" y="16.5" textLength="114">1.5.3 K0+085-K0+115</text><text x="264.5" y="16.5" class="d">12</text><text x="279" y="16.5" textLength="54">2017/3/25</text><text x="358" y="16.5" textLength="48">2017/4/5</text><text x="443.5" y="16.5" class="m">43</text><rect class="b" x="976.4" y="7" width="26.4" height="10"/><text x="1010.8" y="16.5" textLength="78">K0+085-K0+115</text></g>
<g transform="translate(0,1502)"><text x="26" y="16.5">62</text><text x="96" y="16.5" textLength="114">1.5.4 K0+115-K0+145</text><text x="264.5" y="16.5" class="d">12</text><text x="285" y="16.5" textLength="48">2017/4/6</text><text x="352" y="16.5" textLength="54">2017/4/17</text><text x="443.5" y="16.5" class="m">61</text><rect class="b" x="1002.8" y="7" width="26.4" height="10"/><text x="1037.2" y="16.5" textLength="78">K0+115-K0+145</text></g>
<g transform="translate(0,1525)"><text x="26" y="16.5">63</text><text x="96" y="16.5" textLength="114">1.5.5 K0+145-K0+170</text><text x="264.5" y="16.5" class="d">12</text><text x="285" y="16.5" textLength="48">2017/4/4</text><text x="352" y="16.5" textLength="54">2017/4/15</text><text x="443.5" y="16.5" class="m">41</text><rect class="b" x="998.4" y="7" width="26.4" height="10"/><text x="1032.8" y="16.5" textLength="78">K0+145-K0+170</text></g>
<g transform="translate(0,1548)"><text x="26" y="16.5">64</text><text x="96" y="16.5" textLength="114">1.5.6 K0+170-K0+200</text><text x="264.5" y="16.5" class="d">15</text><text x="279" y="16.5" textLength="54">2016/10/7</text><text x="346" y="16.5" textLength="60">2016/10/21</text><text x="443.5" y="16.5" class="m">70</text><rect class="b" x="604.6" y="7" width="33" height="10"/><text x="645.6" y="16.5" textLength="78">K0+170-K0+200</text></g>
<g transform="translate(0,1571)"><text x="26" y="16.5">65</text><text x="96" y="16.5" textLength="114">1.5.7 K0+200-K0+220</text><text x="264.5" y="16.5" class="d">15</text><text x="273" y="16.5" textLength="60">2016/10/22</text><text x="352" y="16.5" textLength="54">2016/11/5</text><text x="443.5" y="16.5" class="m">64</text><rect class="b" x="637.6" y="7" width="33" height="10"/><text x="678.6" y="16.5" textLength="78">K0+200-K0+220</text></g>
<g transform="translate(0,1594)"><text x="26" y="16.5">66</text><text x="96" y="16.5" textLength="114">1.5.8 K0+220-K0+240</text><text x="264.5" y="16.5" class="d">15</text><text x="273" y="16.5" textLength="60">2016/10/10</text><text x="346" y="16.5" textLength="60">2016/10/24</text><text x="443.5" y="16.5" class="m">48</text><rect class="b" x="611.2" y="7" width="33" height="10"/><text x="652.2" y="16.5" textLength="78">K0+220-K0+240</text></g>
<g transform="translate(0,1617)"><text x="26" y="16.5">67</text><text x="96" y="16.5" textLength="114">1.5.9 K0+240-K0+270</text><text x="264.5" y="16.5" class="d">15</text><text x="273" y="16.5" textLength="60">2016/10/25</text><text x="352" y="16.5" textLength="54">2016/11/8</text><text x="443.5" y="16.5" class="m">66</text><rect class="b" x="644.2" y="7" width="33" height="10"/><text x="685.2" y="16.5" textLength="78">K0+240-K0+270</text></g>
<g transform="translate(0,1640)"><text x="26" y="16.5">68</text><text x="96" y="16.5" textLength="120">1.5.10 K0+270-K0+300</text><text x="264.5" y="16.5" class="d">15</text><text x="279" y="16.5" textLength="54">2016/9/30</text><text x="346" y="16.5" textLength="60">2016/10/14</text><text x="443.5" y="16.5" class="m">50</text><rect class="b" x="589.2" y="7" width="33" height="10"/><text x="630.2" y="16.5" textLength="78">K0+270-K0+300</text></g>
<g transform="translate(0,1663)"><text x="26" y="16.5">69</text><text x="96" y="16.5" textLength="120">1.5.11 K0+300-K0+325</text><text x="264.5" y="16.5" class="d">15</text><text x="273" y="16.5" textLength="60">2016/10/15</text><text x="346" y="16.5" textLength="60">2016/10/29</text><text x="443.5" y="16.5" class="m">68</text><rect class="b" x="622.2" y="7" width="33" height="10"/><text x="663.2" y="16.5" textLength="78">K0+300-K0+325</text></g>
<g transform="translate(0,1686)"><text x="26" y="16.5">70</text><text x="96" y="16.5" textLength="120">1.5.12 K0+325-K0+350</text><text x="264.5" y="16.5" class="d">15</text><text x="279" y="16.5" textLength="54">2016/9/22</text><text x="352" y="16.5" textLength="54">2016/10/6</text><text x="443.5" y="16.5" class="m">52</text><rect class="b" x="571.6" y="7" width="33" height="10"/><text x="612.6" y="16.5" textLength="78">K0+325-K0+350</text></g>
<g transform="translate(0,1709)"><text x="26" y="16.5">71</text><text x="96" y="16.5" textLength="120">1.5.13 K0+350-K0+380</text><text x="264.5" y="16.5" class="d">12</text><text x="285" y="16.5" textLength="48">2017/4/5</text><text x="352" y="16.5" textLength="54">2017/4/16</text><text x="443.5" y="16.5" class="m">53</text><rect class="b" x="1000.6" y="7" width="26.4" height="10"/><text x="1035" y="16.5" textLength="78">K0+350-K0+380</text></g>
<g transform="translate(0,1732)"><text x="26" y="16.5">72</text><text x="96" y="16.5" textLength="120">1.5.14 K0+380-K0+410</text><text x="264.5" y="16.5" class="d">12</text><text x="279" y="16.5" textLength="54">2017/4/17</text><text x="352" y="16.5" textLength="54">2017/4/28</text><text x="443.5" y="16.5" class="m">71</text><rect class="b" x="1027" y="7" width="26.4" height="10"/><text x="1061.4" y="16.5" textLength="78">K0+380-K0+410</text></g>
<g transform="translate(0,1755)" class="r"><text x="26" y="16.5">73</text><text x="96" y="16.5" textLength="120">1.5.15 K0+410-K0+440</text><text x="264.5" y="16.5" class="d">12</text><text x="279" y="16.5" textLength="54">2017/4/13</text><text x="352" y="16.5" textLength="54">2017/4/24</text><text x="443.5" y="16.5" class="m">55</text><rect class="c" x="1018.2" y="7" width="26.4" height="10"/><text x="1052.6" y="16.5" textLength="78">K0+410-K0+440</text></g>
<g transform="translate(0,1778)" class="r"><text x="26" y="16.5">74</text><text x="96" y="16.5" textLength="120">1.5.16 K0+440-K0+470</text><text x="264.5" y="16.5" class="d">12</text><text x="279" y="16.5" textLength="54">2017/4/25</text><text x="358" y="16.5" textLength="48">2017/5/6</text><text x="443.5" y="16.5" class="m">73</text><rect class="c" x="1044.6" y="7" width="26.4" height="10"/><text x="1079" y="16.5" textLength="78">K0+440-K0+470</text></g>
<g transform="translate(0,1801)"><text x="26" y="16.5">75</text><text x="96" y="16.5" textLength="120">1.5.17 K0+470-K0+500</text><text x="264.5" y="16.5" class="d">12</text><text x="279" y="16.5" textLength="54">2017/4/22</text><text x="358" y="16.5" textLength="48">2017/5/3</text><text x="443.5" y="16.5" class="m">57</text><rect class="b" x="1038" y="7" width="26.4" height="10"/><text x="1072.4" y="16.5" textLength="78">K0+470-K0+500</text></g>
<g transform="translate(0,1824)"><text x="26" y="16.5">76</text><text x="87" y="16.5" textLength="96">1.6 六、基础回填</text><text x="264.5" y="16.5" class="d">189</text><text x="279" y="16.5" textLength="54">2016/11/9</text><text x="352" y="16.5" textLength="54">2017/5/16</text><path class="sb" d="M672.2 7H1098V12L1093 18L1088 12H682.2L677.2 18L672.2 12Z"/><text x="1101" y="16.5">六、基础回填</text></g>
<g transform="translate(0,1847)"><text x="26" y="16.5">77</text><text x="96" y="16.5" textLength="114">1.6.1 K0+040-K0+170</text><text x="264.5" y="16.5" class="d">10</text><text x="285" y="16.5" textLength="48">2017/4/8</text><text x="352" y="16.5" textLength="54">2017/4/17</text><text x="428.5" y="16.5" textLength="30">78,60</text><rect class="b" x="1007.2" y="7" width="22" height="10"/><text x="1037.2" y="16.5" textLength="78">K0+040-K0+170</text></g>
<g transform="translate(0,1870)"><text x="26" y="16.5">78</text><text x="96" y="16.5" textLength="114">1.6.2 K0+170-K0+350</text><text x="264.5" y="16.5" class="d">10</text><text x="279" y="16.5" textLength="54">2016/11/9</text><text x="346" y="16.5" textLength="60">2016/11/18</text><text x="443.5" y="16.5" class="m">67</text><rect class="b" x="677.2" y="7" width="22" height="10"/><text x="707.2" y="16.5" textLength="78">K0+170-K0+350</text></g>
<g transform="translate(0,1893)" class="r"><text x="26" y="16.5">79</text><text x="96" y="16.5" textLength="114">1.6.3 K0+350-K0+500</text><text x="264.5" y="16.5" class="d">10</text><text x="285" y="16.5" textLength="48">2017/5/7</text><text x="352" y="16.5" textLength="54">2017/5/16</text><text x="419.5" y="16.5" textLength="48">78,74,77</text><rect class="c" x="1071" y="7" width="22" height="10"/><text x="1101" y="16.5" textLength="78">K0+350-K0+500</text></g>
<g transform="translate(0,1916)" class="r"><text x="26" y="16.5">80</text><text x="87" y="11" textLength="132">1.7 七、各类管线、接户</text><text x="87" y="22.5">井</text><text x="264.5" y="16.5" class="d">20</text><text x="279" y="16.5" textLength="54">2017/5/17</text><text x="358" y="16.5" textLength="48">2017/6/5</text><path class="sr" d="M1088 7H1142V12L1137 18L1132 12H1098L1093 18L1088 12Z"/><text x="1145" y="16.5">七、各类管线、接户井</text></g>
<g transform="translate(0,1939)" class="r"><text x="26" y="16.5">81</text><text x="96" y="16.5" textLength="72">1.7.1 接户井</text><text x="264.5" y="16.5" class="d">20</text><text x="279" y="16.5" textLength="54">2017/5/17</text><text x="358" y="16.5" textLength="48">2017/6/5</text><text x="443.5" y="16.5" class="m">79</text><rect class="c" x="1093" y="7" width="44" height="10"/><text x="1145" y="16.5">接户井</text></g>
<g transform="translate(0,1962)" class="r"><text x="26" y="16.5">82</text><text x="87" y="11" textLength="132">1.8 八、各类管线电气施</text><text x="87" y="22.5">工</text><text x="264.5" y="16.5" class="d">30</text><text x="285" y="16.5" textLength="48">2017/6/6</text><text x="358" y="16.5" textLength="48">2017/7/5</text><path class="sr" d="M1132 7H1208V12L1203 18L1198 12H1142L1137 18L1132 12Z"/><text x="1211" y="16.5">八、各类管线电气施工</text></g>
<g transform="translate(0,1985)" class="r"><text x="26" y="16.5">83</text><text x="96" y="11" textLength="120">1.8.1 电气、消防、安</text><text x="96" y="22.5">全工程</text><text x="264.5" y="16.5" class="d">30</text><text x="285" y="16.5" textLength="48">2017/6/6</text><text x="358" y="16.5" textLength="48">2017/7/5</text><text x="443.5" y="16.5" class="m">81</text><rect class="c" x="1137" y="7" width="66" height="10"/><text x="1211" y="16.5">电气、消防、安全工程</text></g>
<g transform="translate(0,2008)" class="r"><text x="26" y="16.5">84</text><text x="87" y="16.5" textLength="108">1.9 九、工程预验收</text><text x="264.5" y="16.5" class="d">19</text><text x="285" y="16.5" textLength="48">2017/7/6</text><text x="352" y="16.5" textLength="54">2017/7/24</text><path class="sr" d="M1198 7H1249.8V12L1244.8 18L1239.8 12H1208L1203 18L1198 12Z"/><text x="1252.8" y="16.5">九、工程预验收</text></g>
<g transform="translate(0,2031)" class="r"><text x="26" y="16.5">85</text><text x="96" y="16.5" textLength="84">1.9.1 联合检查</text><text x="264.5" y="16.5" class="d">4</text><text x="285" y="16.5" textLength="48">2017/7/6</text><text x="358" y="16.5" textLength="48">2017/7/9</text><text x="443.5" y="16.5" class="m">83</text><rect class="c" x="1203" y="7" width="8.8" height="10"/><text x="1219.8" y="16.5">联合检查</text></g>
<g transform="translate(0,2054)" class="r"><text x="26" y="16.5">86</text><text x="96" y="16.5" textLength="84">1.9.2 缺陷修复</text><text x="264.5" y="16.5" class="d">15</text><text x="279" y="16.5" textLength="54">2017/7/10</text><text x="352" y="16.5" textLength="54">2017/7/24</text><text x="443.5" y="16.5" class="m">85</text><rect class="c" x="1211.8" y="7" width="33" height="10"/><text x="1252.8" y="16.5">缺陷修复</text></g>
<g transform="translate(0,2077)" class="r"><text x="26" y="16.5">87</text><text x="87" y="16.5" textLength="78">1.10 十、冬歇</text><text x="264.5" y="16.5" class="d">93</text><text x="273" y="16.5" textLength="60">2016/11/15</text><text x="352" y="16.5" textLength="54">2017/2/15</text><rect class="c" x="690.4" y="7" width="204.6" height="10"/><text x="903" y="16.5">十、冬歇</text></g>
<g transform="translate(0,2100)" class="r"><text x="26" y="16.5">88</text><text x="87" y="16.5" textLength="114">1.11 十一、竣工验收</text><text x="264.5" y="16.5" class="d">15</text><text x="279" y="16.5" textLength="54">2017/7/25</text><text x="358" y="16.5" textLength="48">2017/8/8</text><text x="443.5" y="16.5" class="m">86</text><rect class="c" x="1244.8" y="7" width="32.8" height="10"/><text x="1285.6" y="16.5">十一、竣工验收</text></g>
<g transform="translate(0,2123)" class="r"><text x="26" y="16.5">89</text><text x="87" y="16.5" textLength="90">1.12 十二、完工</text><text x="264.5" y="16.5" class="d">1</text><text x="285" y="16.5" textLength="48">2017/8/9</text><text x="358" y="16.5" textLength="48">2017/8/9</text><text x="443.5" y="16.5" class="m">88</text><rect class="c" x="1277.6" y="7" width="2.4" height="10"/><text x="1288" y="16.5">十二、完工</text></g>

<!-- bottom line -->
<rect x="22" y="2146" width="1361" height="2" fill="#000"/>

<!-- legend -->
<text x="33" y="2171">图例:</text>
<text x="74" y="2171" class="r">关键任务</text>
<rect class="c" x="134" y="2162" width="29" height="9"/>
<text x="176" y="2171">一般任务</text>
<rect class="b" x="237" y="2162" width="29" height="9"/>
<text x="278" y="2171" class="r">关键摘要</text>
<path class="sr" d="M332 2160H375V2165L369.5 2173L364 2165H343L337.5 2173L332 2165Z"/>
<text x="380" y="2171">一般摘要</text>
<path class="sb" d="M434 2160H477V2165L471.5 2173L466 2165H445L439.5 2173L434 2165Z"/>

<!-- footer table -->
<g shape-rendering="crispEdges" fill="none" stroke="#000" stroke-width="1">
<path d="M1036.5 2147V2296M1036 2169.5H1383M1036 2190.5H1383M1036 2211.5H1383M1036 2232.5H1383M1036 2253.5H1383M1036 2274.5H1383M1106.5 2190V2274M1211.5 2190V2296M1281.5 2190V2274"/>
</g>
<text x="1139" y="2162" textLength="144">兰州S185道路综合管廊项目</text>
<text x="1209.5" y="2184" class="m">中国葛洲坝集团第二工程有限公司</text>
<text x="1071" y="2205" class="m">编制人</text><text x="1246.5" y="2205" class="m">负责人</text>
<text x="1071" y="2226" class="m">绘图人</text><text x="1246.5" y="2226" class="m">开始时间</text><text x="1305.5" y="2226" textLength="54">2016/8/10</text>
<text x="1071" y="2247" class="m">审核人</text><text x="1246.5" y="2247" class="m">结束时间</text><text x="1308.5" y="2247" textLength="48">2017/8/9</text>
<text x="1071" y="2268" class="m">校对人</text><text x="1246.5" y="2268" class="m">工期</text><text x="1317.5" y="2268">365天</text>
<text x="1040" y="2284">北京市市政工程设计研究总院有</text>
<text x="1124" y="2296" class="m">限公司</text>
<text x="1268" y="2289" textLength="60">2016-09-09</text>

<!-- outer frame -->
<rect x="19" y="59" width="1369" height="4" fill="#000"/>
<rect x="19" y="59" width="3.5" height="2242" fill="#000"/>
<rect x="1383" y="59" width="5" height="2242" fill="#000"/>
<rect x="19" y="2296" width="1369" height="5" fill="#000"/>
</svg>
</body></html>
